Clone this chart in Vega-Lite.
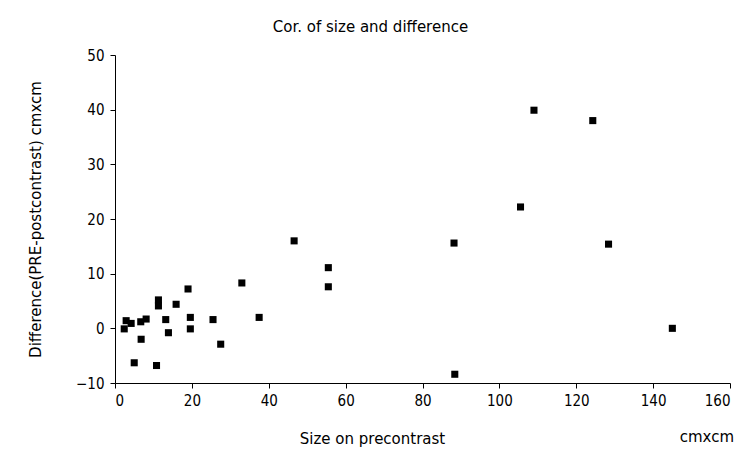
{
  "$schema": "https://vega.github.io/schema/vega-lite/v6.json",
  "autosize": {"type": "none"},
  "padding": {"left": 115, "top": 55, "right": 23, "bottom": 79},
  "width": 615,
  "height": 328,
  "background": "white",
  "title": {
    "text": "Cor. of size and difference",
    "font": "DejaVu Sans",
    "fontSize": 15,
    "fontWeight": "normal",
    "color": "black",
    "anchor": "middle",
    "dx": -52,
    "offset": 13
  },
  "config": {
    "view": {"stroke": null},
    "axis": {
      "labelFont": "DejaVu Sans Condensed, Roboto, sans-serif",
      "titleFont": "DejaVu Sans",
      "labelFontSize": 15,
      "titleFontSize": 15,
      "titleFontWeight": "normal",
      "labelColor": "black",
      "titleColor": "black",
      "domainColor": "black",
      "tickColor": "black",
      "grid": false,
      "tickSize": 5
    }
  },
  "layer": [
    {
      "data": {
        "values": [
          {"size": 2.9, "diff": 1.4},
          {"size": 2.4, "diff": -0.1},
          {"size": 4.2, "diff": 0.9},
          {"size": 5.0, "diff": -6.3},
          {"size": 6.7, "diff": 1.2},
          {"size": 6.8, "diff": -2.0},
          {"size": 8.1, "diff": 1.7},
          {"size": 10.8, "diff": -6.8},
          {"size": 11.3, "diff": 5.2},
          {"size": 11.3, "diff": 4.1},
          {"size": 13.2, "diff": 1.6},
          {"size": 13.9, "diff": -0.8},
          {"size": 15.9, "diff": 4.4},
          {"size": 19.0, "diff": 7.2},
          {"size": 19.6, "diff": 2.0},
          {"size": 19.6, "diff": -0.1},
          {"size": 25.5, "diff": 1.6},
          {"size": 27.5, "diff": -2.9},
          {"size": 33.0, "diff": 8.3},
          {"size": 37.5, "diff": 2.0},
          {"size": 46.6, "diff": 16.0},
          {"size": 55.5, "diff": 11.1},
          {"size": 55.5, "diff": 7.6},
          {"size": 88.2, "diff": 15.6},
          {"size": 88.4, "diff": -8.4},
          {"size": 105.5, "diff": 22.2},
          {"size": 109.0, "diff": 39.9},
          {"size": 124.3, "diff": 38.0},
          {"size": 128.4, "diff": 15.4},
          {"size": 145.0, "diff": 0.0}
        ]
      },
      "mark": {"type": "point", "shape": "square", "filled": true, "color": "black", "opacity": 1, "size": 50},
      "encoding": {
        "x": {
          "field": "size", "type": "quantitative",
          "scale": {"domain": [0, 160], "nice": false, "zero": false},
          "axis": {"values": [0, 20, 40, 60, 80, 100, 120, 140, 160], "title": "Size on precontrast", "titlePadding": 23, "labelPadding": 5, "titleX": 257}
        },
        "y": {
          "field": "diff", "type": "quantitative",
          "scale": {"domain": [-10, 50], "nice": false, "zero": false},
          "axis": {"values": [-10, 0, 10, 20, 30, 40, 50], "title": "Difference(PRE-postcontrast) cmxcm", "titlePadding": 32, "labelPadding": 6}
        }
      }
    },
    {
      "data": {"values": [{"label": "cmxcm", "lx": 154, "ly": -19.9}]},
      "mark": {"type": "text", "font": "DejaVu Sans", "fontSize": 15, "color": "black", "clip": false, "baseline": "middle"},
      "encoding": {
        "x": {"field": "lx", "type": "quantitative"},
        "y": {"field": "ly", "type": "quantitative"},
        "text": {"field": "label"}
      }
    }
  ]
}
